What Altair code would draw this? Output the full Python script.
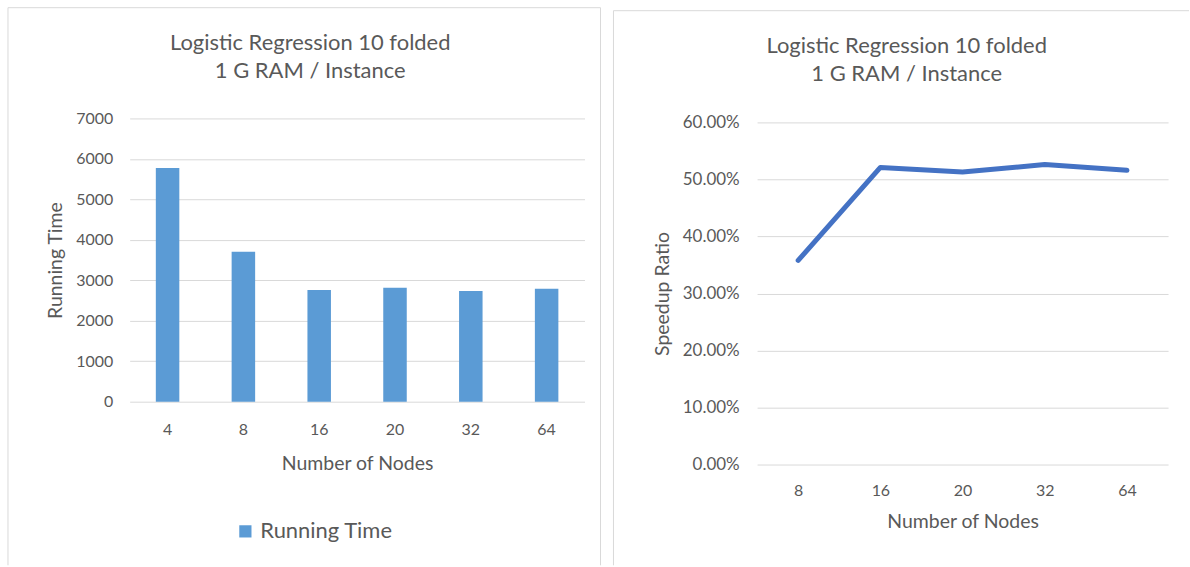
import altair as alt
import pandas as pd

# ---- data ----
nodes_left = ["4", "8", "16", "20", "32", "64"]
running_time = [5775, 3705, 2760, 2818, 2736, 2793]

nodes_right = ["8", "16", "20", "32", "64"]
speedup = [0.358, 0.521, 0.513, 0.526, 0.516]

title_lines = ["Logistic Regression 10 folded", "1 G RAM / Instance"]

FONT = "Lato"
TXT = "#595959"
GRID = "#D9D9D9"
BORDER = "#D9D9D9"

df_left = pd.DataFrame({"nodes": nodes_left, "time": running_time, "series": "Running Time"})
df_right = pd.DataFrame({"nodes": nodes_right, "ratio": speedup})
one = pd.DataFrame({"a": [0]})


def rule(x, y, x2=None, y2=None):
    enc = {"x": alt.value(x), "y": alt.value(y)}
    if x2 is not None:
        enc["x2"] = alt.value(x2)
    if y2 is not None:
        enc["y2"] = alt.value(y2)
    return alt.Chart(one).mark_rule(color=BORDER, strokeWidth=1).encode(**enc)


def title_text(x, y, s):
    return alt.Chart(one).mark_text(font=FONT, fontSize=22, color=TXT, align="center",
                                    baseline="middle").encode(
        x=alt.value(x), y=alt.value(y), text=alt.value(s))


# ---- left panel ----
bars = alt.Chart(df_left).mark_bar(color="#5B9BD5").encode(
    x=alt.X("nodes:N", sort=nodes_left,
            scale=alt.Scale(paddingInner=0.69, paddingOuter=0.345),
            axis=alt.Axis(title="Number of Nodes", labelAngle=0, grid=False,
                          labelPadding=20, titlePadding=17)),
    y=alt.Y("time:Q", scale=alt.Scale(domain=[0, 7000], nice=False),
            axis=alt.Axis(title="Running Time", values=list(range(0, 7001, 1000)),
                          format="d", labelFontSize=16,
                          labelPadding=17, titlePadding=10)),
    color=alt.Color("series:N", scale=alt.Scale(range=["#5B9BD5"]),
                    legend=alt.Legend(orient="none", legendX=105, legendY=403,
                                      title=None, symbolType="square", symbolSize=150,
                                      symbolStrokeWidth=0,
                                      labelFontSize=22, labelFont=FONT,
                                      labelColor=TXT, direction="horizontal")),
)

left_borders = [
    rule(-122, -111, x2=472),
    rule(-122, -111, y2=448),
    rule(472, -111, y2=448),
]

left = alt.layer(
    bars, *left_borders,
    title_text(181, -76, title_lines[0]),
    title_text(181, -48, title_lines[1]),
).properties(width=456, height=284)

# ---- right panel (plot starts 4px below the shared row origin) ----
line = alt.Chart(df_right).mark_line(color="#4472C4", strokeWidth=5,
                                     strokeCap="round", strokeJoin="round").encode(
    x=alt.X("nodes:N", sort=nodes_right, scale=alt.Scale(type="point", padding=0.5),
            axis=alt.Axis(title="Number of Nodes", labelAngle=0, grid=False,
                          labelPadding=18, titlePadding=14)),
    y=alt.Y("ratio:Q", scale=alt.Scale(domain=[0, 0.6], nice=False, range=[347, 4]),
            axis=alt.Axis(title="Speedup Ratio", format=".2%",
                          values=[0, 0.1, 0.2, 0.3, 0.4, 0.5, 0.6],
                          labelFontSize=17,
                          labelPadding=18, titlePadding=10)),
)

right_borders = [
    rule(-144, -108, x2=433),
    rule(-144, -108, y2=448),
]

right = alt.layer(
    line, *right_borders,
    title_text(150, -73, title_lines[0]),
    title_text(150, -45, title_lines[1]),
).properties(width=412, height=347)

chart = alt.concat(left, right, columns=2, spacing=11, align="none").properties(
    padding={"left": 7, "top": 6, "right": 0, "bottom": 0}
).configure_view(stroke=None).configure_axis(
    domain=False, ticks=False, gridColor=GRID, gridWidth=1,
    labelFont=FONT, titleFont=FONT, labelColor=TXT, titleColor=TXT,
    labelFontSize=16, titleFontSize=19.5, titleFontWeight="normal",
).configure_legend(labelFont=FONT)

chart.save("out.html", embed_options={"renderer": "svg", "actions": False})
